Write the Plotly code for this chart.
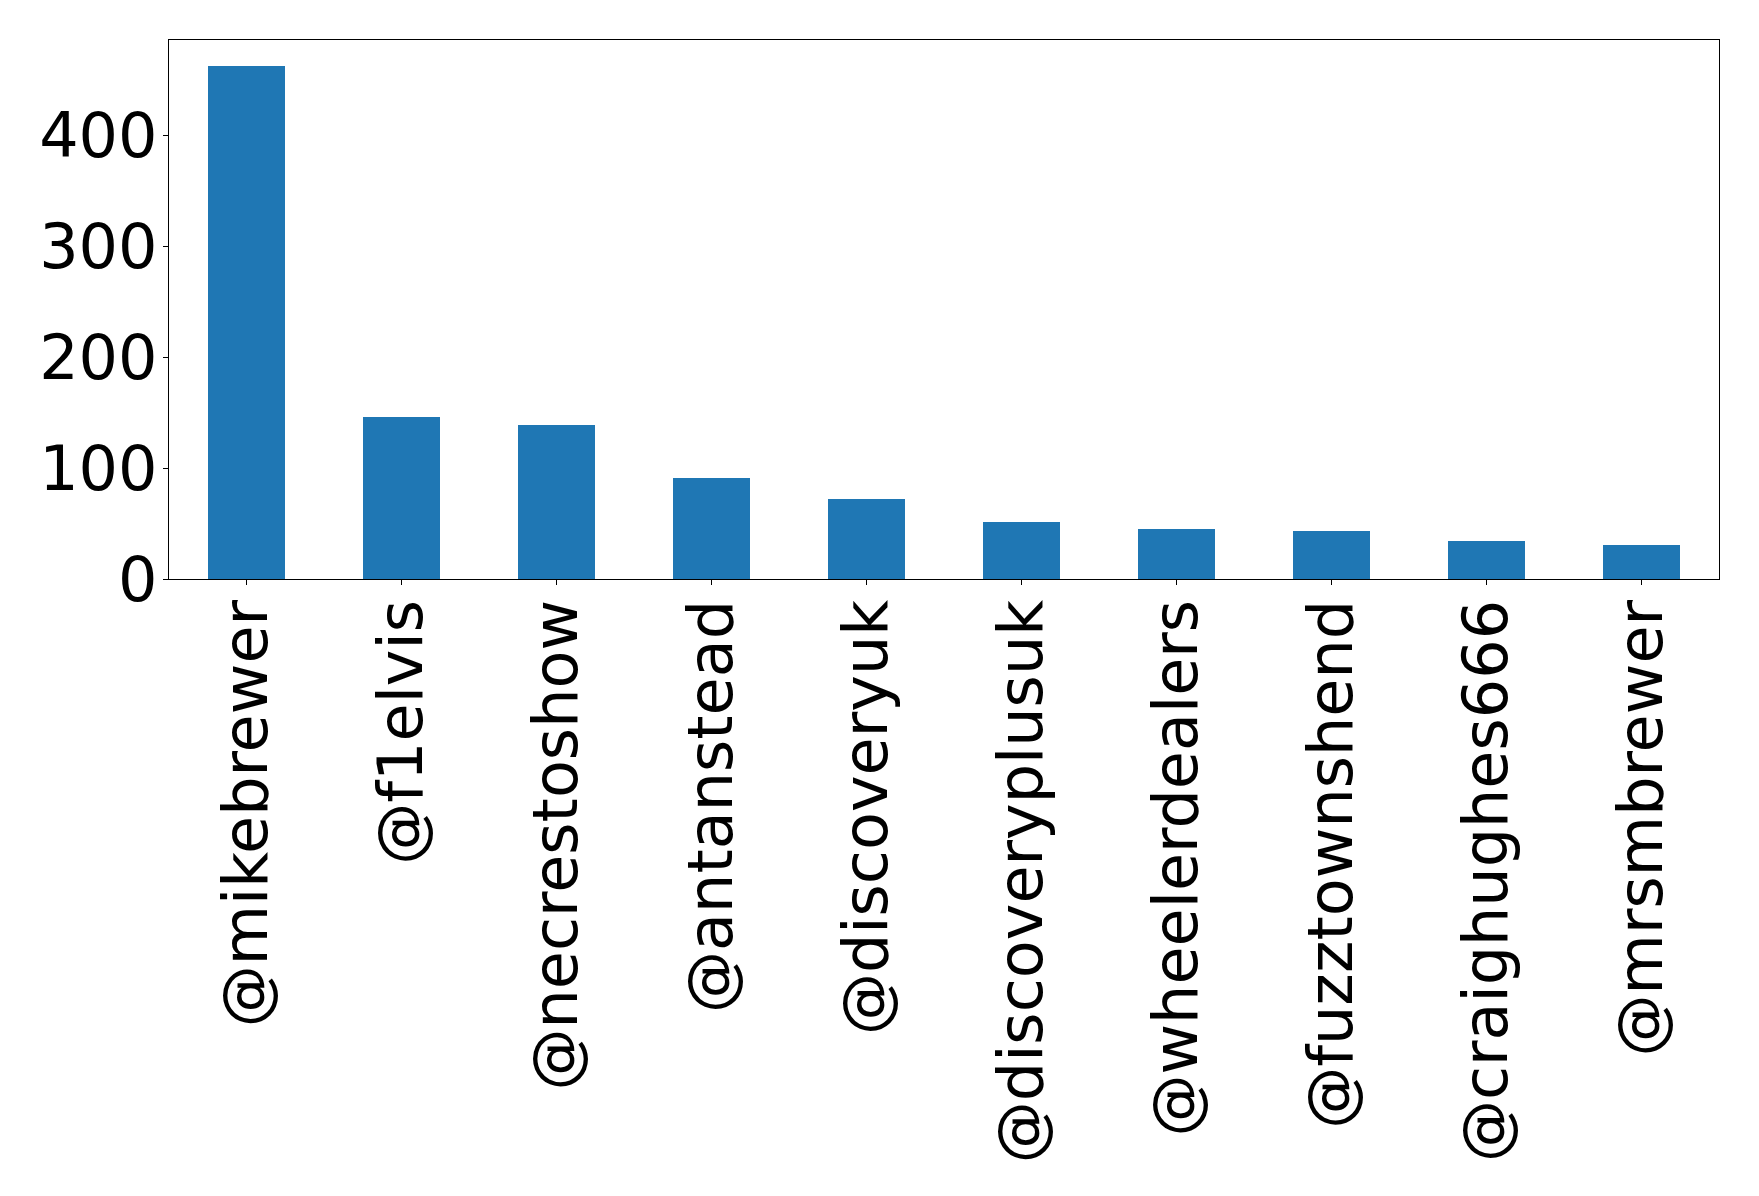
import plotly.graph_objects as go

categories = ["@mikebrewer", "@f1elvis", "@necrestoshow", "@antanstead", "@discoveryuk",
              "@discoveryplusuk", "@wheelerdealers", "@fuzztownshend", "@craighughes666", "@mrsmbrewer"]
counts = [463, 146, 139, 91, 72, 51, 45, 43, 34, 31]
y_ticks = [0, 100, 200, 300, 400]

fig = go.Figure(go.Bar(x=categories, y=counts, width=0.5, marker=dict(color="#1f77b4", line=dict(width=0))))

font = dict(family="DejaVu Sans", size=62, color="black")
fig.update_layout(
    width=1759, height=1196,
    margin=dict(l=161, r=48, t=32, b=625, autoexpand=False),
    plot_bgcolor="white", paper_bgcolor="white",
    showlegend=False,
    font=font,
    bargap=0,
)
fig.update_xaxes(
    type="category", range=[-0.5, 9.5], tickangle=-90,
    showline=True, mirror=True, linecolor="black", linewidth=1.2,
    ticks="outside", ticklen=5, tickwidth=1.2, tickcolor="black",
    showgrid=False, zeroline=False, tickfont=font, automargin=False,
    ticklabelstandoff=-10,
)
fig.update_yaxes(
    range=[0, 463 * 1.05], tickvals=y_ticks,
    showline=True, mirror=True, linecolor="black", linewidth=1.2,
    ticks="outside", ticklen=5, tickwidth=1.2, tickcolor="black",
    showgrid=False, zeroline=False, tickfont=font, automargin=False,
    ticklabelstandoff=-7,
)
fig.write_html("out.html")
